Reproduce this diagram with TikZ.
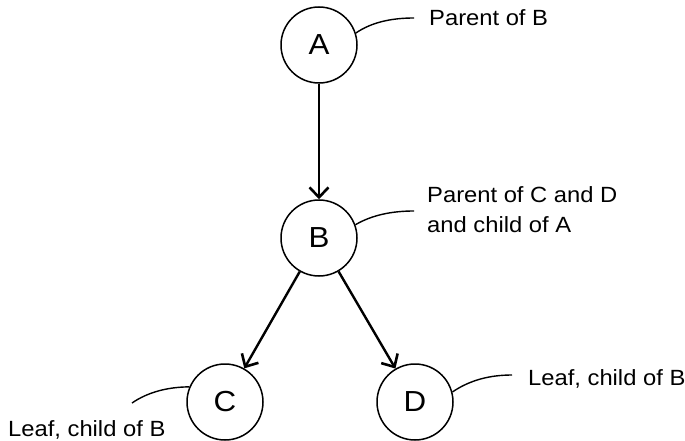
\documentclass[tikz,border=0pt]{standalone}
\usepackage{fontspec}
\setmainfont{Liberation Sans}[FakeStretch=1.08]
\usetikzlibrary{arrows.meta}
\begin{document}
\begin{tikzpicture}[x=1pt,y=-1pt,
  vtx/.style={circle,draw,line width=1.5pt,minimum size=76pt,inner sep=0pt,font=\fontsize{29}{32}\selectfont},
  arr/.style={line width=2.4pt,-{Straight Barb[length=10pt,width=19pt,line width=2.6pt]}},
  callout/.style={line width=1.4pt},
  note/.style={inner sep=0pt,anchor=west,align=left,font=\fontsize{22}{30}\selectfont}]
\useasboundingbox (0,0) rectangle (685,441);
\node[vtx] (A) at (319,45) {A};
\node[vtx] (B) at (319,238) {B};
\node[vtx] (C) at (225,402) {C};
\node[vtx] (D) at (415,402) {D};
\draw[arr] (A) -- (B);
\draw[arr] (B) -- (C);
\draw[arr] (B) -- (D);
\node[note] (nA) at (429,18) {Parent of B};
\node[note] (nB) at (427,210) {Parent of C and D\\and child of A};
\node[note] (nD) at (528,379) {Leaf, child of B};
\node[note] (nC) at (8,430) {Leaf, child of B};
\coordinate (eA) at (414,18);
\coordinate (eB) at (414,211);
\coordinate (eD) at (512,375);
\coordinate (eC) at (132,403);
\draw[callout] (A.18) .. controls (372,22) and (392,18) .. (eA);
\draw[callout] (B.20) .. controls (372,215) and (392,211) .. (eB);
\draw[callout] (D.15) .. controls (470,380) and (490,375) .. (eD);
\draw[callout] (C.157) .. controls (168,387) and (148,392) .. (eC);
\end{tikzpicture}
\end{document}
